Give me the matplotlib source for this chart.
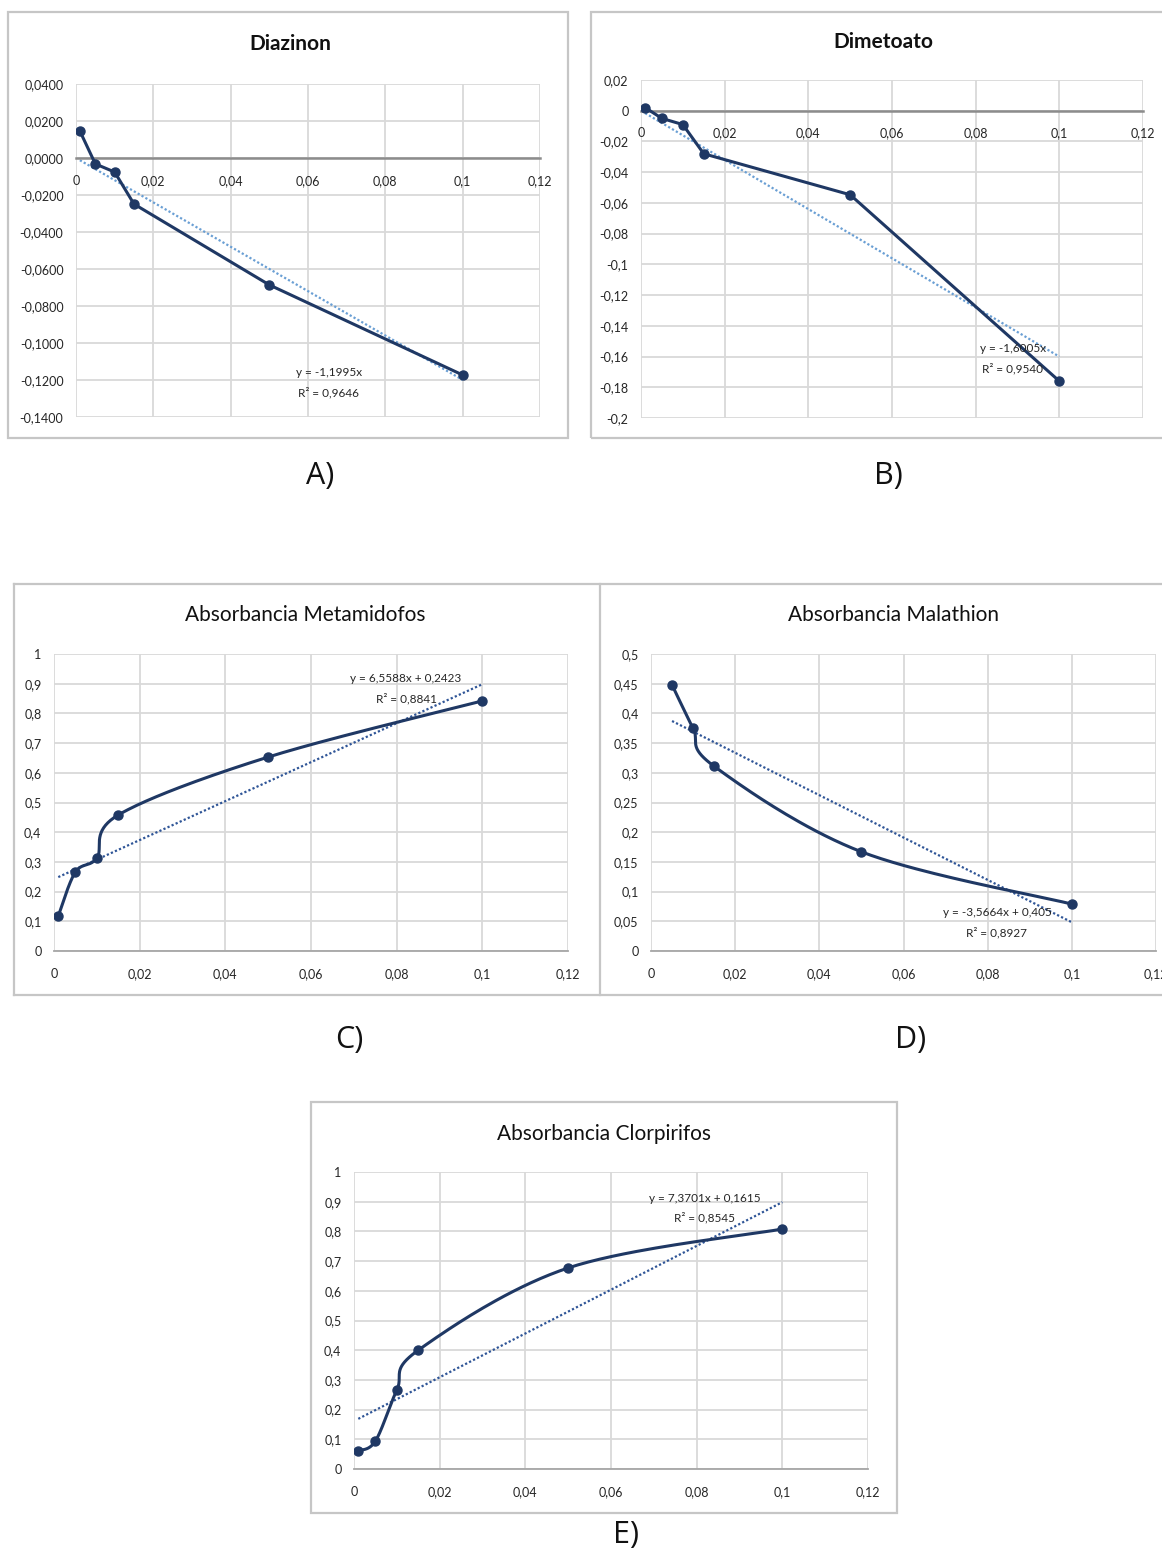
import numpy as np
import matplotlib
matplotlib.use("Agg")
from matplotlib import pyplot as plt
from matplotlib.ticker import FuncFormatter, MultipleLocator
from matplotlib.patches import Rectangle
from matplotlib.lines import Line2D

plt.rcParams['font.family'] = ['Lato', 'DejaVu Sans']

# data -------------------------------------------------------------------------------------
conc = [0.001, 0.005, 0.01, 0.015, 0.05, 0.1]

diazinon = [0.0146, -0.0032, -0.0076, -0.0249, -0.0686, -0.1173]
dimetoato = [0.002, -0.005, -0.009, -0.028, -0.0547, -0.176]
metamidofos = [0.118, 0.266, 0.313, 0.458, 0.653, 0.842]
conc_malathion = [0.005, 0.01, 0.015, 0.05, 0.1]
malathion = [0.448, 0.375, 0.311, 0.167, 0.079]
clorpirifos = [0.061, 0.094, 0.266, 0.40, 0.677, 0.808]

# trendlines (slope, intercept) and their labels
trend_diazinon = (-1.1995, 0.0)
trend_dimetoato = (-1.6005, 0.0)
trend_metamidofos = (6.5588, 0.2423)
trend_malathion = (-3.5664, 0.405)
trend_clorpirifos = (7.3701, 0.1615)
eq_labels = {
    'A': ('y = -1,1995x', 'R² = 0,9646'),
    'B': ('y = -1,6005x', 'R² = 0,9540'),
    'C': ('y = 6,5588x + 0,2423', 'R² = 0,8841'),
    'D': ('y = -3,5664x + 0,405', 'R² = 0,8927'),
    'E': ('y = 7,3701x + 0,1615', 'R² = 0,8545'),
}

W, H = 1162, 1552
fig = plt.figure(figsize=(W / 100, H / 100), dpi=100, facecolor='white')

NAVY = '#1F3864'
GRID = '#D9D9D9'
FRAME = '#C6C6C6'


def box(l, t, r, b):
    return [l / W, 1 - b / H, (r - l) / W, (b - t) / H]


def fx(px):
    return px / W


def fy(py):
    return 1 - py / H


def comma(fmt):
    def f(v, pos):
        if abs(v) < 1e-12:
            v = 0.0
        s = fmt.format(v) if fmt else ('%g' % round(v, 6))
        return s.replace('.', ',')
    return FuncFormatter(f)


def excel_smooth(x, y, xlim, ylim, wpx, hpx, n=40):
    # Excel style smoothed line: bezier with control points from neighbours, in screen space
    px = (np.asarray(x) - xlim[0]) / (xlim[1] - xlim[0]) * wpx
    py = (np.asarray(y) - ylim[0]) / (ylim[1] - ylim[0]) * hpx
    P = np.column_stack([px, py])
    out = []
    m = len(P)
    t = np.linspace(0, 1, n)[:, None]
    for i in range(m - 1):
        p0 = P[max(i - 1, 0)]
        p1 = P[i]
        p2 = P[i + 1]
        p3 = P[min(i + 2, m - 1)]
        c1 = p1 + (p2 - p0) / 6
        c2 = p2 - (p3 - p1) / 6
        seg = ((1 - t) ** 3) * p1 + 3 * ((1 - t) ** 2) * t * c1 + 3 * (1 - t) * t ** 2 * c2 + t ** 3 * p2
        out.append(seg if i == 0 else seg[1:])
    S = np.vstack(out)
    sx = S[:, 0] / wpx * (xlim[1] - xlim[0]) + xlim[0]
    sy = S[:, 1] / hpx * (ylim[1] - ylim[0]) + ylim[0]
    return sx, sy


def panel(rect, x, y, trend, ylim, ystep, yfmt, smooth, trend_color, zero_axis):
    l, t, r, b = rect
    ax = fig.add_axes(box(l, t, r, b))
    xlim = (0, 0.12)
    ax.set_xlim(*xlim)
    ax.set_ylim(*ylim)
    ax.xaxis.set_major_locator(MultipleLocator(0.02))
    ax.yaxis.set_major_locator(MultipleLocator(ystep))
    ax.xaxis.set_major_formatter(comma(None))
    ax.yaxis.set_major_formatter(comma(yfmt))
    ax.grid(True, color=GRID, lw=1.3)
    ax.set_axisbelow(True)
    for s in ['top', 'right', 'left']:
        ax.spines[s].set_visible(False)
    if zero_axis:
        ax.spines['bottom'].set_position(('data', 0))
        ax.spines['bottom'].set_color('#8C8C8C')
        ax.spines['bottom'].set_linewidth(1.8)
    else:
        ax.spines['bottom'].set_color('#A6A6A6')
        ax.spines['bottom'].set_linewidth(1.3)
    ax.tick_params(length=0, labelsize=9, colors='#262626')
    ax.tick_params(axis='x', pad=12)
    ax.tick_params(axis='y', pad=9)
    for lab in ax.get_xticklabels() + ax.get_yticklabels():
        lab.set_clip_on(False)

    # trendline
    tx = np.array([min(x), max(x)])
    ax.plot(tx, trend[0] * tx + trend[1], ls=(0, (1, 1)), color=trend_color, lw=1.6, zorder=2)

    # series
    if smooth:
        sx, sy = excel_smooth(x, y, xlim, ylim, r - l, b - t)
        ax.plot(sx, sy, color=NAVY, lw=2.2, zorder=3, solid_capstyle='round')
    else:
        ax.plot(x, y, color=NAVY, lw=2.2, zorder=3)
    ax.plot(x, y, 'o', color=NAVY, ms=6.5, zorder=4)
    return ax


def title(px, py, s, bold=False):
    fig.text(fx(px), fy(py), s, ha='center', va='center', fontsize=15,
             fontweight='bold' if bold else 'normal', color='#111111')


def equation(px, py, key):
    a, b = eq_labels[key]
    fig.text(fx(px), fy(py), a, ha='center', va='center', fontsize=8.5, color='#262626')
    fig.text(fx(px), fy(py + 20), b, ha='center', va='center', fontsize=8.5, color='#262626')


def letter(px, py, s):
    fig.text(fx(px), fy(py), s, ha='center', va='center', fontsize=22,
             family=['Open Sans', 'DejaVu Sans'], color='#111111')


def frame_rect(l, t, r, b):
    fig.patches.append(Rectangle((fx(l), fy(b)), (r - l) / W, (b - t) / H, transform=fig.transFigure,
                                 fill=False, ec=FRAME, lw=1.6))


def frame_line(x0, y0, x1, y1):
    fig.lines.append(Line2D([fx(x0), fx(x1)], [fy(y0), fy(y1)], transform=fig.transFigure,
                            color=FRAME, lw=1.6))


# frames --------------------------------------------------------------------------------------
frame_rect(8, 12, 568, 438)
frame_rect(591, 12, 1175, 438)
frame_line(14, 584, 1170, 584)
frame_line(14, 584, 14, 995)
frame_line(14, 995, 1170, 995)
frame_line(600, 584, 600, 995)
frame_rect(311, 1102, 897, 1513)

# A) Diazinon
panel((76, 84, 540, 417), conc, diazinon, trend_diazinon, (-0.14, 0.04), 0.02, '{:.4f}', False, '#6A9FD4', True)
title(290, 44, 'Diazinon', bold=True)
equation(329, 373, 'A')
letter(320, 476, 'A)')

# B) Dimetoato
panel((641, 80, 1143, 418), conc, dimetoato, trend_dimetoato, (-0.2, 0.02), 0.02, None, False, '#6A9FD4', True)
title(883, 42, 'Dimetoato', bold=True)
equation(1013, 349, 'B')
letter(888, 476, 'B)')

# C) Metamidofos
panel((54, 654, 568, 951), conc, metamidofos, trend_metamidofos, (0, 1), 0.1, None, True, '#2F5597', False)
title(305, 615, 'Absorbancia Metamidofos')
equation(406, 679, 'C')
letter(349, 1040, 'C)')

# D) Malathion
panel((651, 654, 1156, 951), conc_malathion, malathion, trend_malathion, (0, 0.5), 0.05, None, True, '#2F5597', False)
title(893, 615, 'Absorbancia Malathion')
equation(997, 913, 'D')
letter(911, 1040, 'D)')

# E) Clorpirifos
panel((354, 1172, 868, 1469), conc, clorpirifos, trend_clorpirifos, (0, 1), 0.1, None, True, '#2F5597', False)
title(604, 1134, 'Absorbancia Clorpirifos')
equation(705, 1198, 'E')
letter(626, 1535, 'E)')

fig.savefig('out.png', dpi=100, facecolor='white')
